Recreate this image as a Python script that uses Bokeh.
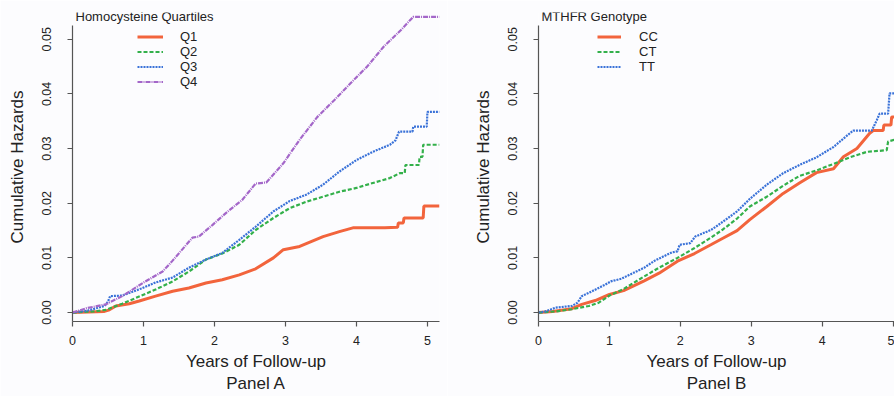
from bokeh.plotting import figure
from bokeh.layouts import row
from bokeh.models import (Legend, LegendItem, Label, FixedTicker,
                          NumeralTickFormatter, Range1d)
from bokeh.embed import file_html
from bokeh.resources import INLINE

# ---------------- data: Panel A (homocysteine quartiles) ----------------
q1_t = [0, 0.45, 0.52, 0.61, 0.80, 0.94, 1.17, 1.41, 1.64, 1.88, 2.11, 2.35, 2.58,
        2.83, 2.97, 3.20, 3.53, 3.76, 3.95, 4.40, 4.58, 4.59, 4.66, 4.67, 4.94, 4.95, 5.17]
q1_v = [0, 0.0002, 0.0005, 0.0012, 0.0016, 0.0021, 0.0030, 0.0039, 0.0045, 0.0054,
        0.0060, 0.0069, 0.0080, 0.0100, 0.0115, 0.0121, 0.0139, 0.0148, 0.0155, 0.0155,
        0.0156, 0.0164, 0.0164, 0.0173, 0.0173, 0.0195, 0.0195]

q2_t = [0, 0.30, 0.47, 0.70, 0.97, 1.17, 1.41, 1.64, 1.88, 2.11, 2.35, 2.58, 2.83,
        3.06, 3.30, 3.53, 3.76, 4.00, 4.23, 4.47, 4.61, 4.68, 4.69, 4.88, 4.89, 4.93,
        4.94, 5.17]
q2_v = [0, 0.0002, 0.0005, 0.0016, 0.0031, 0.0042, 0.0057, 0.0075, 0.0097, 0.0108,
        0.0124, 0.0151, 0.0173, 0.0191, 0.0203, 0.0212, 0.0221, 0.0228, 0.0237, 0.0246,
        0.0255, 0.0255, 0.0270, 0.0270, 0.0285, 0.0285, 0.0307, 0.0307]

q3_t = [0, 0.20, 0.45, 0.50, 0.53, 0.70, 0.97, 1.17, 1.41, 1.64, 1.88, 2.11, 2.35,
        2.58, 2.83, 3.06, 3.30, 3.53, 3.76, 4.00, 4.23, 4.47, 4.55, 4.60, 4.79, 4.80,
        4.99, 5.00, 5.17]
q3_v = [0, 0.0003, 0.0012, 0.0020, 0.0030, 0.0031, 0.0044, 0.0055, 0.0064, 0.0082,
        0.0097, 0.0109, 0.0133, 0.0157, 0.0185, 0.0204, 0.0216, 0.0234, 0.0258, 0.0279,
        0.0294, 0.0307, 0.0315, 0.0331, 0.0331, 0.0340, 0.0340, 0.0367, 0.0367]

q4_t = [0, 0.20, 0.47, 0.70, 0.99, 1.27, 1.41, 1.69, 1.78, 1.97, 2.16, 2.39, 2.58,
        2.73, 2.97, 3.06, 3.21, 3.45, 3.69, 3.92, 4.15, 4.38, 4.62, 4.80, 5.17]
q4_v = [0, 0.0008, 0.0015, 0.0030, 0.0054, 0.0075, 0.0095, 0.0137, 0.0139, 0.0160,
        0.0182, 0.0206, 0.0236, 0.0238, 0.0273, 0.0290, 0.0318, 0.0358, 0.0389, 0.0420,
        0.0450, 0.0486, 0.0516, 0.0541, 0.0541]

# ---------------- data: Panel B (MTHFR genotype) ----------------
cc_t = [0, 0.20, 0.47, 0.61, 0.80, 1.00, 1.20, 1.49, 1.70, 1.96, 2.20, 2.43, 2.60,
        2.80, 2.98, 3.22, 3.45, 3.68, 3.92, 4.16, 4.30, 4.49, 4.67, 4.72, 4.86, 4.87,
        4.97, 4.98, 5.02]
cc_v = [0, 0.0002, 0.0007, 0.0015, 0.0022, 0.0033, 0.0040, 0.0058, 0.0072, 0.0094,
        0.0108, 0.0124, 0.0136, 0.0150, 0.0170, 0.0194, 0.0218, 0.0237, 0.0256, 0.0263,
        0.0285, 0.0300, 0.0328, 0.0333, 0.0333, 0.0343, 0.0343, 0.0358, 0.0358]

ct_t = [0, 0.24, 0.47, 0.71, 0.85, 1.00, 1.20, 1.49, 1.70, 1.96, 2.20, 2.43, 2.60,
        2.80, 2.98, 3.22, 3.45, 3.68, 3.92, 4.16, 4.39, 4.63, 4.91, 4.93, 5.02]
ct_v = [0, 0.0002, 0.0006, 0.0012, 0.0018, 0.0031, 0.0043, 0.0066, 0.0082, 0.0100,
        0.0118, 0.0137, 0.0152, 0.0172, 0.0194, 0.0212, 0.0232, 0.0250, 0.0260, 0.0272,
        0.0284, 0.0294, 0.0297, 0.0313, 0.0316]

tt_t = [0, 0.10, 0.24, 0.47, 0.55, 0.61, 0.71, 0.94, 1.02, 1.17, 1.49, 1.64, 1.88,
        1.96, 1.99, 2.14, 2.21, 2.43, 2.50, 2.80, 2.98, 3.22, 3.45, 3.68, 3.92, 4.16,
        4.39, 4.44, 4.70, 4.77, 4.81, 4.93, 4.95, 5.02]
tt_v = [0, 0.0002, 0.0009, 0.0012, 0.0018, 0.0030, 0.0036, 0.0051, 0.0057, 0.0062,
        0.0082, 0.0095, 0.0110, 0.0112, 0.0124, 0.0127, 0.0139, 0.0151, 0.0157, 0.0185,
        0.0208, 0.0234, 0.0255, 0.0270, 0.0284, 0.0303, 0.0328, 0.0333, 0.0333, 0.0352,
        0.0364, 0.0364, 0.0401, 0.0401]

x_ticks = [0, 1, 2, 3, 4, 5]
y_ticks = [0.00, 0.01, 0.02, 0.03, 0.04, 0.05]

FONT = "Liberation Sans"
BG = "#fcfcfe"
TXT = "#222222"
AX = "#555555"
Y_START, Y_END, Y_AXIS_TOP = -0.00164, 0.0549, 0.0526

ORANGE, GREEN, BLUE, PURPLE = "#f2643c", "#33b04a", "#3a72d8", "#a467c9"


def make_fig(width, min_left, min_right, x_end, xlabel):
    p = figure(width=width, height=396, x_range=Range1d(0, x_end),
               y_range=Range1d(Y_START, Y_END), output_backend="svg",
               toolbar_location=None, min_border_left=min_left,
               min_border_right=min_right, min_border_top=12, min_border_bottom=74,
               background_fill_color=BG, border_fill_color=BG)
    p.outline_line_color = None
    p.grid.visible = False
    for ax in (p.xaxis[0], p.yaxis[0]):
        ax.axis_line_color = AX
        ax.axis_line_width = 1.2
        ax.major_tick_line_color = AX
        ax.major_tick_line_width = 1.2
        ax.major_tick_in = 0
        ax.major_tick_out = 5
        ax.minor_tick_line_color = None
        ax.major_label_text_font = FONT
        ax.major_label_text_font_size = "12.5px"
        ax.major_label_text_color = TXT
        ax.axis_label_text_font = FONT
        ax.axis_label_text_font_size = "17px"
        ax.axis_label_text_font_style = "normal"
        ax.axis_label_text_color = TXT
    p.xaxis.ticker = FixedTicker(ticks=x_ticks)
    p.yaxis.ticker = FixedTicker(ticks=y_ticks)
    p.yaxis.formatter = NumeralTickFormatter(format="0.00")
    p.yaxis.major_label_orientation = "vertical"
    p.yaxis.bounds = (Y_START, Y_AXIS_TOP)
    p.xaxis.major_label_standoff = 9
    p.yaxis.major_label_standoff = 16
    p.xaxis.axis_label = xlabel
    p.xaxis.axis_label_standoff = 4
    p.yaxis.axis_label = "Cumulative Hazards"
    p.yaxis.axis_label_standoff = 13
    return p


def add_legend(p, title, entries, glyph_w, standoff, x_pos, y_pos):
    items = [LegendItem(label=lab, renderers=[r]) for lab, r in entries]
    lg = Legend(items=items, location=(x_pos, y_pos), padding=0, margin=0, spacing=0,
                border_line_alpha=0, background_fill_alpha=0, label_height=15,
                glyph_height=15, glyph_width=glyph_w, label_standoff=standoff,
                label_text_font=FONT, label_text_font_size="13px",
                label_text_color=TXT)
    p.add_layout(lg, "center")
    p.add_layout(Label(x=p.x_range.start, y=p.y_range.end, x_offset=3, y_offset=-4,
                       text=title, text_font=FONT, text_font_size="13px",
                       text_color=TXT, text_baseline="middle"))


# ---------------- Panel A ----------------
pa = make_fig(447, 72, 8, 5.17, "Years of Follow-up\nPanel A")
r1 = pa.line(q1_t, q1_v, line_color=ORANGE, line_width=3)
r2 = pa.line(q2_t, q2_v, line_color=GREEN, line_width=2.2, line_dash="4 2")
r3 = pa.line(q3_t, q3_v, line_color=BLUE, line_width=2.2, line_dash="2 1")
r4 = pa.line(q4_t, q4_v, line_color=PURPLE, line_width=2.2, line_dash="5 1 1 1")
add_legend(pa, "Homocysteine Quartiles",
           [("Q1", r1), ("Q2", r2), ("Q3", r3), ("Q4", r4)], 26, 17, 65, 232)

# ---------------- Panel B ----------------
pb = make_fig(447, 91, 0, 5.02, "Years of Follow-up\nPanel B")
s1 = pb.line(cc_t, cc_v, line_color=ORANGE, line_width=3)
s2 = pb.line(ct_t, ct_v, line_color=GREEN, line_width=2.2, line_dash="4 2")
s3 = pb.line(tt_t, tt_v, line_color=BLUE, line_width=2.2, line_dash="2 1")
add_legend(pb, "MTHFR Genotype", [("CC", s1), ("CT", s2), ("TT", s3)], 24, 18, 59, 247)

layout = row(pa, pb)
open("out.html", "w").write(file_html(layout, INLINE))
